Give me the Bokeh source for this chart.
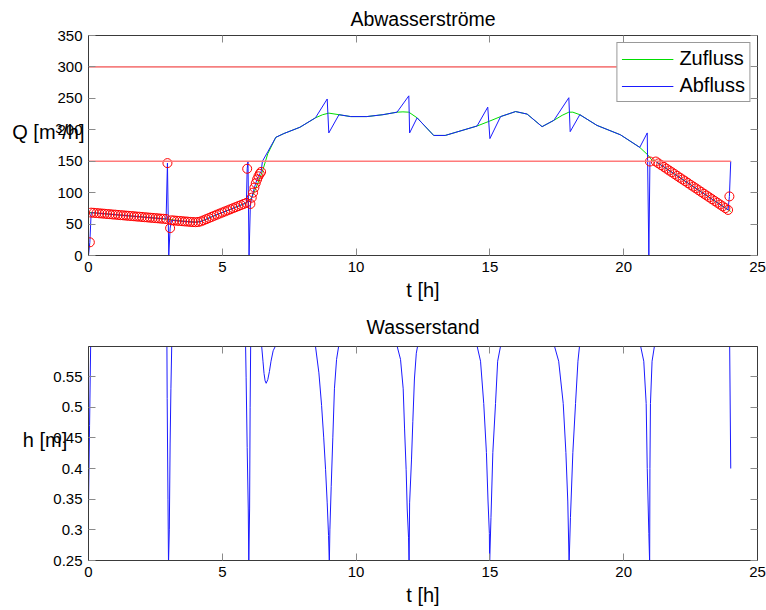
from bokeh.plotting import figure
from bokeh.models import Range1d, LinearAxis, FixedTicker, CustomJSTickFormatter
from bokeh.layouts import column
from bokeh.embed import file_html
from bokeh.resources import INLINE

FONT = "Liberation Sans"

# ---------------- data ----------------
x_ticks = [0, 5, 10, 15, 20, 25]
q_ticks = [0, 50, 100, 150, 200, 250, 300, 350]
h_ticks = [0.25, 0.3, 0.35, 0.4, 0.45, 0.5, 0.55]

zufluss_t = [0.0, 0.5, 1.0, 1.5, 2.0, 2.5, 2.9, 3.5, 4.0, 4.2, 4.5, 5.0, 5.5, 5.9,
             6.1, 6.3, 6.5, 6.7, 7.0, 7.3, 7.9, 8.48, 8.75, 8.98, 9.36, 9.8, 10.4,
             11.0, 11.53, 11.75, 11.97, 12.28, 12.9, 13.33, 14.52, 15.0, 15.4, 15.96,
             16.39, 16.95, 17.39, 17.7, 17.95, 18.1, 18.36, 19.0, 19.88, 20.6, 20.9,
             21.05, 21.2, 22.0, 23.0, 24.0]
zufluss_q = [68.5, 66.8, 65.0, 63.1, 61.3, 59.5, 58.0, 54.6, 53.0, 54.3, 59.6, 68.4, 76.9, 83.7,
             92.0, 112.0, 134.0, 162.0, 188.0, 194.0, 204.0, 219.0, 224.0, 226.5, 224.0, 221.0, 221.0,
             224.0, 228.0, 228.5, 228.0, 219.0, 191.0, 191.0, 206.0, 214.0, 221.0, 229.0,
             225.0, 205.0, 215.0, 223.0, 228.0, 228.0, 224.0, 207.0, 192.0, 172.0, 160.0,
             152.0, 149.5, 126.7, 98.2, 70.0]

abfluss_t = [0.0, 0.05, 0.1, 0.2, 0.3, 0.4, 0.5, 0.6, 0.7, 0.8, 0.9, 1.0, 1.1, 1.2, 1.3, 1.4,
             1.5, 1.6, 1.7, 1.8, 1.9, 2.0, 2.1, 2.2, 2.3, 2.4, 2.5, 2.6, 2.7, 2.8, 2.9,
             2.95, 3.0, 3.05,
             3.1, 3.2, 3.3, 3.4, 3.5, 3.6, 3.7, 3.8, 3.9, 4.0, 4.1, 4.2, 4.3, 4.4, 4.5,
             4.6, 4.7, 4.8, 4.9, 5.0, 5.1, 5.2, 5.3, 5.4, 5.5, 5.6, 5.7, 5.8, 5.9,
             5.93, 5.96, 6.0, 6.05, 6.1, 6.15, 6.2, 6.25, 6.3, 6.35, 6.4, 6.45, 6.5,
             6.7, 7.0, 7.3, 7.9, 8.48, 8.92, 8.98, 9.36, 9.8, 10.4, 11.0, 11.53, 11.97,
             12.0, 12.28, 12.9, 13.33, 14.52, 14.92, 15.0, 15.4, 15.96, 16.39, 16.95,
             17.39, 17.95, 18.0, 18.36, 19.0, 19.88, 20.6, 20.88, 20.94, 20.98,
             21.2, 21.3, 21.4, 21.5, 21.6, 21.7, 21.8, 21.9, 22.0, 22.1, 22.2, 22.3,
             22.4, 22.5, 22.6, 22.7, 22.8, 22.9, 23.0, 23.1, 23.2, 23.3, 23.4, 23.5,
             23.6, 23.7, 23.8, 23.9, 23.95, 24.0]
abfluss_q = [0.0, 21.0, 68.2, 67.9, 67.5, 67.1, 66.8, 66.4, 66.0, 65.7, 65.3, 65.0, 64.6, 64.2, 63.9, 63.5,
             63.1, 62.8, 62.4, 62.0, 61.7, 61.3, 60.9, 60.6, 60.2, 59.8, 59.5, 59.1, 58.7, 58.4, 58.0,
             147.0, 0.0, 43.5,
             56.0, 55.7, 55.3, 55.0, 54.6, 54.2, 53.9, 53.5, 53.2, 53.0, 53.3, 54.3, 56.0, 57.8, 59.6,
             61.4, 63.2, 65.0, 66.7, 68.4, 70.1, 71.8, 73.5, 75.2, 76.9, 78.6, 80.3, 82.0, 83.7,
             138.0, 150.0, 0.0, 82.0, 92.0, 100.0, 108.0, 115.0, 121.0, 126.0, 130.0, 133.0, 150.0,
             165.0, 188.0, 194.0, 204.0, 219.0, 249.0, 195.0, 224.0, 221.0, 221.0, 224.0, 228.0, 254.0,
             195.0, 219.0, 191.0, 191.0, 206.0, 236.0, 186.0, 221.0, 229.0, 225.0, 205.0,
             215.0, 251.0, 197.0, 224.0, 207.0, 192.0, 172.0, 195.0, 0.0, 149.5,
             149.5, 146.6, 143.8, 141.0, 138.1, 135.2, 132.4, 129.6, 126.7, 123.8, 121.0, 118.2,
             115.3, 112.4, 109.6, 106.8, 103.9, 101.0, 98.2, 95.4, 92.5, 89.6, 86.8, 84.0,
             81.1, 78.2, 75.4, 72.5, 94.0, 150.0]

grenze_t = [0.0, 24.0]
qmax_q = [150.0, 150.0]
qgrenz_q = [300.0, 300.0]

wasser_t = [0.0, 0.04, 0.08, 0.15, 1.5,
            2.85, 2.93, 2.94, 2.97, 2.99, 3.02, 3.05, 3.08, 3.11, 3.18, 4.5,
            5.8, 5.87, 5.89, 5.93, 5.97, 5.99, 6.02, 6.04, 6.06, 6.12,
            6.38, 6.47, 6.52, 6.56, 6.6, 6.64, 6.7, 6.76, 6.82, 6.9, 6.99, 7.1, 7.8,
            8.4, 8.48, 8.61, 8.71, 8.79, 8.86, 8.92, 8.97, 9.0, 9.02, 9.07, 9.13, 9.19, 9.27, 9.35, 9.45, 10.5,
            11.45, 11.53, 11.66, 11.76, 11.81, 11.87, 11.91, 11.96, 11.98, 12.0, 12.07, 12.12, 12.18, 12.25, 12.3, 12.4, 13.5,
            14.45, 14.52, 14.65, 14.77, 14.87, 14.93, 14.98, 14.99, 15.04, 15.11, 15.21, 15.29, 15.4, 15.5, 16.5,
            17.33, 17.41, 17.57, 17.74, 17.84, 17.91, 17.96, 18.01, 18.1, 18.2, 18.29, 18.35, 18.45, 19.5,
            20.55, 20.63, 20.75, 20.84, 20.88, 20.94, 20.97, 20.98, 21.0, 21.06, 21.15, 21.25, 22.5,
            23.95, 24.0]
wasser_h = [0.34, 0.47, 0.60, 0.66, 0.70,
            0.65, 0.60, 0.514, 0.35, 0.245, 0.30, 0.44, 0.53, 0.60, 0.65, 0.70,
            0.65, 0.60, 0.549, 0.434, 0.334, 0.245, 0.334, 0.50, 0.60, 0.64,
            0.63, 0.60, 0.575, 0.555, 0.543, 0.539, 0.545, 0.558, 0.575, 0.592, 0.60, 0.63, 0.66,
            0.62, 0.60, 0.556, 0.503, 0.45, 0.398, 0.344, 0.291, 0.245, 0.30, 0.371, 0.45, 0.53, 0.578, 0.60, 0.63, 0.66,
            0.62, 0.60, 0.578, 0.53, 0.466, 0.398, 0.334, 0.287, 0.245, 0.344, 0.414, 0.477, 0.546, 0.588, 0.60, 0.63, 0.66,
            0.62, 0.60, 0.575, 0.506, 0.426, 0.347, 0.294, 0.245, 0.32, 0.426, 0.506, 0.575, 0.60, 0.63, 0.66,
            0.62, 0.60, 0.575, 0.506, 0.426, 0.347, 0.245, 0.32, 0.426, 0.506, 0.575, 0.60, 0.63, 0.66,
            0.62, 0.60, 0.575, 0.506, 0.40, 0.294, 0.245, 0.40, 0.506, 0.575, 0.60, 0.63, 0.70,
            0.65, 0.40]

# pump points (marked with circles): outflow between 0 and Qmax
kreis_t = [t for t, q in zip(abfluss_t, abfluss_q) if 0 < q < qmax_q[0]]
kreis_q = [q for q in abfluss_q if 0 < q < qmax_q[0]]

# ---------------- styling helpers ----------------
AX_COL = "#3a3a3a"
TICK_COL = "#8a8a8a"


def style_axis(ax, ticks, labels=True):
    ax.ticker = FixedTicker(ticks=ticks)
    ax.major_tick_in = 7
    ax.major_tick_out = 0
    ax.minor_tick_line_color = None
    ax.major_tick_line_color = TICK_COL
    ax.axis_line_color = AX_COL
    ax.major_label_text_font = FONT
    if labels:
        ax.major_label_text_color = "#000000"
        ax.major_label_text_font_size = "15px"
        ax.major_label_standoff = 6
    else:
        ax.major_label_text_color = None
        ax.major_label_text_font_size = "1px"
        ax.major_label_standoff = 0


def style_label(ax, text, standoff):
    ax.axis_label = text
    ax.axis_label_text_font = FONT
    ax.axis_label_text_font_size = "20px"
    ax.axis_label_text_font_style = "normal"
    ax.axis_label_text_color = "#000000"
    ax.axis_label_standoff = standoff


def make_fig(height, b_top, b_bottom, y_range, title, title_standoff):
    p = figure(width=766, height=height, output_backend="svg", toolbar_location=None,
               x_range=Range1d(0, 25), y_range=y_range,
               min_border_left=88, min_border_right=9,
               min_border_top=b_top, min_border_bottom=b_bottom, title=title)
    p.title.align = "center"
    p.title.text_font = FONT
    p.title.text_font_size = "19.5px"
    p.title.text_font_style = "normal"
    p.title.text_color = "#000000"
    p.title.standoff = title_standoff
    p.xgrid.visible = False
    p.ygrid.visible = False
    p.outline_line_color = AX_COL
    p.background_fill_color = "white"
    p.border_fill_color = "white"
    p.add_layout(LinearAxis(), "right")
    p.add_layout(LinearAxis(), "above")
    return p


# ---------------- top: flows ----------------
p1 = make_fig(305, 35, 50, Range1d(0, 350), "Abwasserströme", 11)
p1.line(zufluss_t, zufluss_q, line_color="#00dd00", line_width=1, legend_label="Zufluss")
p1.line(abfluss_t, abfluss_q, line_color="#1a1aff", line_width=1, legend_label="Abfluss")
p1.scatter(kreis_t, kreis_q, marker="circle", size=9, fill_color=None,
           line_color="#ff0000", line_width=1)
p1.line(grenze_t, qmax_q, line_color="#ff7a7a", line_width=1.6)
p1.line(grenze_t, qgrenz_q, line_color="#ee2222", line_width=1)

for ax in p1.xaxis:
    style_axis(ax, x_ticks, labels=(ax in p1.below))
for ax in p1.yaxis:
    style_axis(ax, q_ticks, labels=(ax in p1.left))
style_label(p1.below[0], "t [h]", 4)
# trailing line break lifts the (horizontally written) label half a line above the axis centre
style_label(p1.left[0], "Q [m³/h]\n", -30)
p1.left[0].axis_label_orientation = "horizontal"

lg = p1.legend[0]
lg.location = "top_right"
lg.margin = 7
lg.padding = 4
lg.spacing = 4
lg.label_text_font = FONT
lg.label_text_font_size = "20px"
lg.label_text_color = "#000000"
lg.label_height = 22
lg.glyph_height = 22
lg.glyph_width = 52
lg.label_standoff = 6
lg.border_line_color = "#333333"
lg.border_line_width = 1
lg.background_fill_color = "white"
lg.background_fill_alpha = 1

# ---------------- bottom: water level ----------------
p2 = make_fig(305, 35, 50, Range1d(0.25, 0.599), "Wasserstand", 17)
p2.line(wasser_t, wasser_h, line_color="#1a1aff", line_width=1)

for ax in p2.xaxis:
    style_axis(ax, x_ticks, labels=(ax in p2.below))
for ax in p2.yaxis:
    style_axis(ax, h_ticks, labels=(ax in p2.left))
p2.left[0].formatter = CustomJSTickFormatter(code="return String(Math.round(tick*100)/100);")
style_label(p2.below[0], "t [h]", 4)
style_label(p2.left[0], "h [m]\n", -17)
p2.left[0].axis_label_orientation = "horizontal"

layout = column(p1, p2, spacing=0)
open("out.html", "w").write(file_html(layout, INLINE))
